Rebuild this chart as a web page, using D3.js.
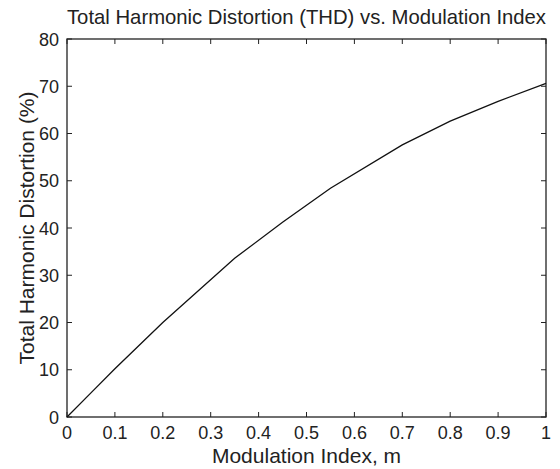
<!DOCTYPE html>
<html><head><meta charset="utf-8">
<script src="https://cdn.jsdelivr.net/npm/d3@7"></script>
<style>body{margin:0;background:#fff}svg{display:block}text{font-family:"Liberation Sans",Arial,sans-serif;fill:#222}</style>
</head><body>
<script>
const mValues = [0, 0.05, 0.1, 0.2, 0.35, 0.45, 0.55, 0.7, 0.8, 0.9, 1.0];
const thdValues = [0, 5.1, 10.2, 20.0, 33.6, 41.2, 48.4, 57.6, 62.6, 66.8, 70.6];
const xTicks = [0, 0.1, 0.2, 0.3, 0.4, 0.5, 0.6, 0.7, 0.8, 0.9, 1];
const yTicks = [0, 10, 20, 30, 40, 50, 60, 70, 80];
const titleText = "Total Harmonic Distortion (THD) vs. Modulation Index";
const xLabel = "Modulation Index, m";
const yLabel = "Total Harmonic Distortion (%)";

const W = 560, H = 469;
const L = 67, R = 546, T = 39, B = 417;
const svg = d3.select("body").append("svg").attr("width", W).attr("height", H);
const x = d3.scaleLinear().domain([0, 1]).range([L, R]);
const y = d3.scaleLinear().domain([0, 80]).range([B, T]);
const col = "#222";

// box
svg.append("rect").attr("x", L).attr("y", T).attr("width", R - L).attr("height", B - T)
  .attr("fill", "none").attr("stroke", col).attr("stroke-width", 1.3);

// inner ticks
const tl = 5;
const g = svg.append("g").attr("stroke", col).attr("stroke-width", 1);
xTicks.forEach(t => {
  g.append("line").attr("x1", x(t)).attr("x2", x(t)).attr("y1", B).attr("y2", B - tl);
  g.append("line").attr("x1", x(t)).attr("x2", x(t)).attr("y1", T).attr("y2", T + tl);
});
yTicks.forEach(t => {
  g.append("line").attr("x1", L).attr("x2", L + tl).attr("y1", y(t)).attr("y2", y(t));
  g.append("line").attr("x1", R).attr("x2", R - tl).attr("y1", y(t)).attr("y2", y(t));
});

// tick labels
svg.append("g").selectAll("text").data(xTicks).join("text")
  .attr("x", d => x(d)).attr("y", 439).attr("text-anchor", "middle")
  .attr("font-size", 18).text(d => d3.format("")(d));
svg.append("g").selectAll("text").data(yTicks).join("text")
  .attr("x", 59).attr("y", d => y(d) + 6.5).attr("text-anchor", "end")
  .attr("font-size", 18).text(d => d);

// line
svg.append("path").datum(mValues.map((m, i) => [m, thdValues[i]]))
  .attr("fill", "none").attr("stroke", "#111").attr("stroke-width", 1.3)
  .attr("d", d3.line().x(d => x(d[0])).y(d => y(d[1])));

// labels
svg.append("text").attr("x", (L + R) / 2).attr("y", 24).attr("text-anchor", "middle")
  .attr("font-size", 20.3).text(titleText);
svg.append("text").attr("x", (L + R) / 2).attr("y", 463).attr("text-anchor", "middle")
  .attr("font-size", 21).text(xLabel);
svg.append("text").attr("transform", `translate(34,${(T + B) / 2}) rotate(-90)`)
  .attr("text-anchor", "middle").attr("font-size", 21).text(yLabel);
</script>
</body></html>
